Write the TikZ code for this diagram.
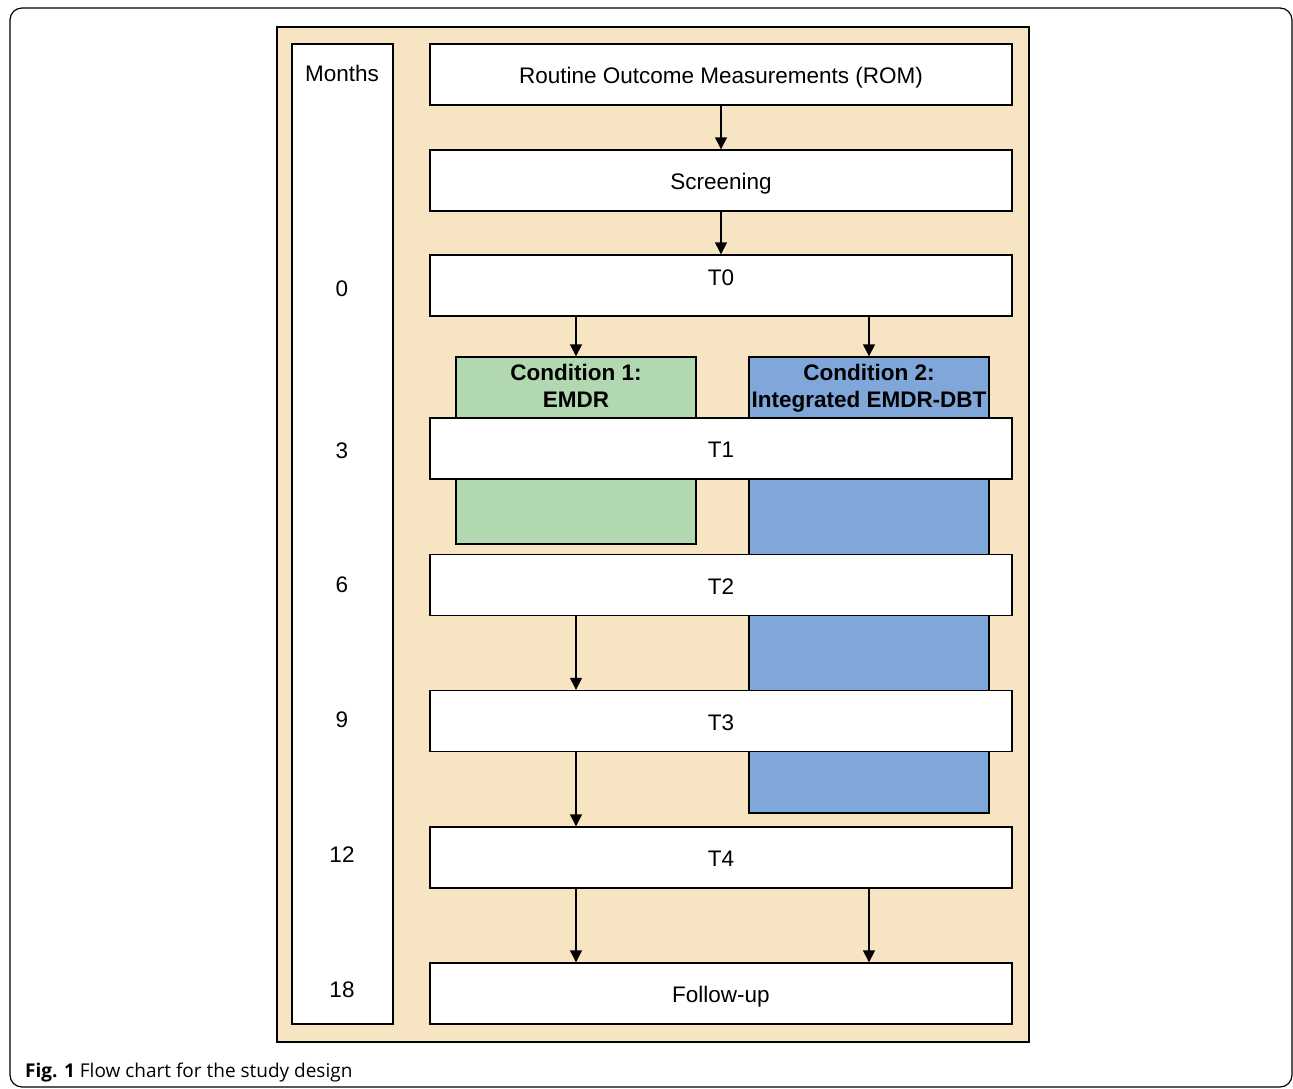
\documentclass[tikz,border=0pt]{standalone}
\usepackage{fontspec}
\setmainfont{Liberation Sans}
\newfontfamily\capfont{Open Sans}
\usetikzlibrary{arrows.meta,positioning}
\definecolor{panel}{HTML}{F6E4C3}
\definecolor{condgreen}{HTML}{B1D8B0}
\definecolor{condblue}{HTML}{7FA7D9}

\begin{document}
\begin{tikzpicture}[x=1pt,y=-1pt,
  box/.style={draw,line width=1.4pt,fill=white,minimum width=582pt,minimum height=61pt,inner sep=0pt,text height=19pt,text depth=1pt,font=\fontsize{22.5}{26}\selectfont},
  cond/.style={draw,line width=1.4pt,minimum width=240pt,inner sep=0pt},
  condtext/.style={below,inner sep=8pt,align=center,font=\bfseries\fontsize{22.5}{27}\selectfont},
  month/.style={font=\fontsize{22.5}{26}\selectfont},
  arr/.style={-{Triangle[width=12pt,length=12pt]},line width=1.4pt}]
\useasboundingbox (0,0) rectangle (1293,1088);
\draw [rounded corners=12pt,line width=1.2pt] (10,8) rectangle (1292,1087);
\draw [fill=panel,line width=1.4pt] (277,27) rectangle (1029,1042);
\node [draw,fill=white,line width=1.4pt,minimum width=101pt,minimum height=980pt] (monthcol) at (342.5,534) {};

\node [month] (mlabel) at (342,73) {Months};
\node [month] (m0)  at (342,289) {0};
\node [month] (m3)  at (342,451) {3};
\node [month] (m6)  at (342,585) {6};
\node [month] (m9)  at (342,720) {9};
\node [month] (m12) at (342,855) {12};
\node [month] (m18) at (342,990) {18};

\node [cond,fill=condgreen,minimum height=187pt] (cond1) at (576,450.5) {};
\node [cond,fill=condblue,minimum height=456pt] (cond2) at (869,585) {};
\node [condtext] (cond1text) at (cond1.north) {Condition 1:\\EMDR};
\node [condtext] (cond2text) at (cond2.north) {Condition 2:\\Integrated EMDR-DBT};

\node [box] (rom)    at (721,74.5)  {Routine Outcome Measurements (ROM)};
\node [box] (screen) at (721,180.5) {Screening};
\node [box,text depth=19pt] (t0) at (721,285.5) {T0};
\node [box] (t1)     at (721,448.5) {T1};
\node [box] (t2)     at (721,585)   {T2};
\node [box] (t3)     at (721,721)   {T3};
\node [box] (t4)     at (721,857.5) {T4};
\node [box] (follow) at (721,993.5) {Follow-up};

\draw [arr] (rom) to (screen);
\draw [arr] (screen) to (t0);
\draw [arr] (t0.south -| cond1) to (cond1.north);
\draw [arr] (t0.south -| cond2) to (cond2.north);
\draw [arr] (t2.south -| cond1) to (t3.north -| cond1);
\draw [arr] (t3.south -| cond1) to (t4.north -| cond1);
\draw [arr] (t4.south -| cond1) to (follow.north -| cond1);
\draw [arr] (t4.south -| cond2) to (follow.north -| cond2);

\node [anchor=base west,inner sep=0pt,font=\capfont\fontsize{19}{22}\selectfont] (caption) at (25,1077) {\textbf{Fig. 1} Flow chart for the study design};
\end{tikzpicture}
\end{document}
